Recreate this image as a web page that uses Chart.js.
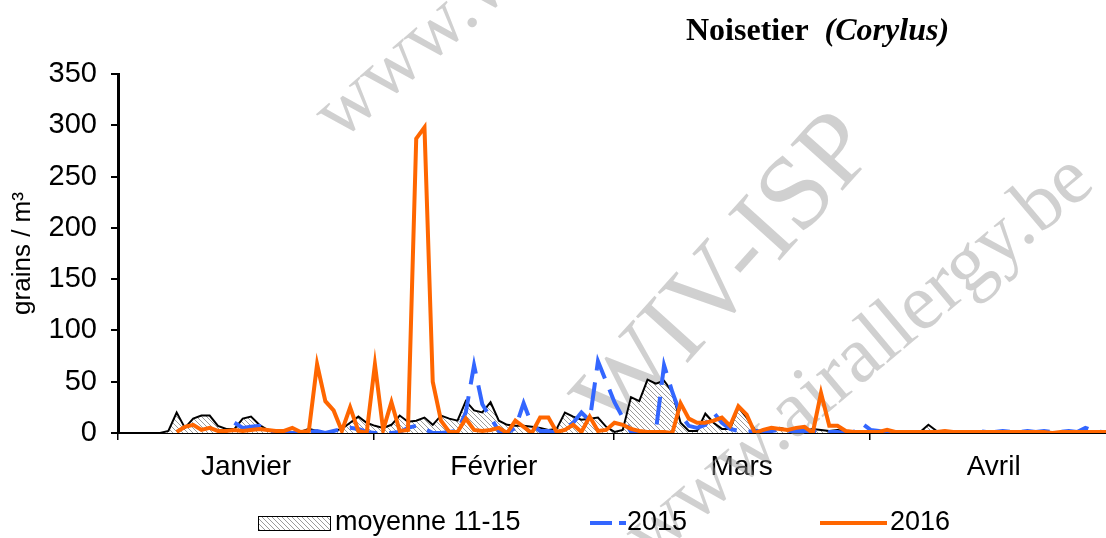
<!DOCTYPE html>
<html>
<head>
<meta charset="utf-8">
<script src="https://cdn.jsdelivr.net/npm/chart.js@4.4.1/dist/chart.umd.min.js"></script>
<style>
  html, body { margin: 0; padding: 0; background: #fff; }
</style>
</head>
<body>
<canvas id="chart" width="1106" height="538"></canvas>
<script>
// months and days per month (2016, leap year)
const months = ['Janvier', 'Février', 'Mars', 'Avril'];
const monthDays = [31, 29, 31, 30];
const yTicks = [0, 50, 100, 150, 200, 250, 300, 350];

// daily values, 1 Jan -> 30 Apr
const moyenne = [
  0, 0, 0, 0, 0, 0, 2, 20, 5, 14, 17, 17, 7, 4, 4, 14, 16, 8, 3, 2,
  2, 1, 1, 4, 2, 0, 2, 4, 10, 16, 10, 7, 5, 8, 17, 11, 12, 15, 8, 17,
  14, 12, 31, 22, 20, 30, 12, 8, 7, 7, 6, 5, 3, 4, 20, 16, 13, 14, 15, 6,
  1, 3, 35, 31, 52, 48, 51, 40, 10, 2, 2, 19, 10, 4, 4, 25, 15, 3, 1, 2,
  5, 3, 3, 2, 4, 3, 2, 3, 2, 1, 1, 2, 1, 2, 1, 1, 1, 1, 8, 2,
  2, 1, 0, 1, 1, 0, 1, 1, 0, 1, 1, 0, 1, 1, 1, 0, 1, 1, 1, 0, 1
];
const y2015 = [
  null, null, null, null, null, null, null, null, null, null, null, null, null, null, 10, 5, 6, 7, 1, 0,
  0, 0, 0, 1, 2, 0, 2, 4, 5, 4, 1, 0, 0, 0, 1, 5, 7, 4, 0, 0,
  1, 2, 20, 66, 28, 15, 2, 0, 5, 29, 8, 2, 2, 0, 4, 10, 20, 12, 70, 50,
  30, 15, 1, 0, 0, 1, 66, 40, 18, 7, 5, 8, 20, 10, 4, 2, 1, 2, 1, 2,
  3, 2, 2, 2, 2, 1, 1, 1, 0, 1, 9, 3, 2, 0, 1, 1, 1, 1, 1, 2,
  1, 1, 1, 1, 2, 1, 1, 2, 1, 1, 2, 1, 2, 1, 1, 2, 1, 5, 2, 1, 1
];
const y2016 = [
  null, null, null, null, null, null, null, 1, 6, 8, 3, 5, 2, 2, 3, 2, 3, 4, 3, 2,
  2, 5, 1, 2, 67, 31, 22, 2, 25, 2, 0, 67, 3, 30, 2, 3, 287, 298, 50, 12,
  1, 1, 14, 3, 2, 3, 5, 0, 12, 6, 0, 15, 15, 1, 3, 8, 1, 16, 2, 3,
  10, 8, 4, 2, 1, 1, 1, 0, 29, 14, 10, 10, 12, 15, 7, 26, 18, 0, 3, 5,
  4, 3, 5, 6, 0, 39, 7, 7, 2, 1, 1, 1, 1, 3, 1, 1, 1, 1, 1, 1,
  2, 1, 1, 1, 1, 1, 1, 1, 1, 1, 1, 1, 1, 0, 1, 1, 1, 1, 1, 1, 1
];

// visible part of the day axis (the chart is cut a bit before 30 April)
const xMax = 119.6;

const bounds = [0];
monthDays.forEach(d => bounds.push(bounds[bounds.length - 1] + d));
const centers = monthDays.map((d, i) => bounds[i] + d / 2);
const xTicks = bounds.concat(centers).filter(v => v <= xMax).sort((a, b) => a - b);

const toPoints = arr => arr.map((v, i) => ({ x: i + 0.1, y: v }));

const ctx = document.getElementById('chart').getContext('2d');

function makeHatch() {
  const s = 5;
  const c = document.createElement('canvas');
  c.width = s; c.height = s;
  const g = c.getContext('2d');
  g.fillStyle = '#fff';
  g.fillRect(0, 0, s, s);
  g.strokeStyle = '#9a9a9a';
  g.lineWidth = 1;
  g.beginPath();
  g.moveTo(-1, -1); g.lineTo(s + 1, s + 1);
  g.moveTo(-1, s - 1); g.lineTo(1, s + 1);
  g.moveTo(s - 1, -1); g.lineTo(s + 1, 1);
  g.stroke();
  return ctx.createPattern(c, 'repeat');
}
const hatch = makeHatch();

const sans = '"Liberation Sans", Arial, sans-serif';
const serif = '"Liberation Serif", "Times New Roman", serif';

// watermark, title and legend drawn on the canvas
const decor = {
  id: 'decor',
  beforeDatasetsDraw(chart) {
    const c = chart.ctx;
    c.save();
    c.fillStyle = 'rgba(150,150,150,0.45)';
    c.textBaseline = 'alphabetic';
    const marks = [
      { t: 'www.wiv-isp.be', x: 340, y: 142, a: -41, f: 80 },
      { t: 'WIV-ISP', x: 618, y: 440, a: -48, f: 106 },
      { t: 'www.airallergy.be', x: 650, y: 562, a: -40, f: 80 }
    ];
    marks.forEach(m => {
      c.save();
      c.translate(m.x, m.y);
      c.rotate(m.a * Math.PI / 180);
      c.font = m.f + 'px ' + serif;
      c.fillText(m.t, 0, 0);
      c.restore();
    });
    c.restore();
  },
  afterDraw(chart) {
    const c = chart.ctx;
    c.save();
    // title
    c.fillStyle = '#000';
    c.textBaseline = 'alphabetic';
    c.font = 'bold 32px ' + serif;
    c.fillText('Noisetier', 686, 40);
    const w = c.measureText('Noisetier  ').width;
    c.font = 'italic bold 32px ' + serif;
    c.fillText('(Corylus)', 686 + w, 40);

    // legend
    const ly = 523;
    c.font = '27px ' + sans;
    c.textBaseline = 'middle';
    c.fillStyle = hatch;
    c.fillRect(258, 516, 72, 14);
    c.strokeStyle = '#000';
    c.lineWidth = 1;
    c.strokeRect(258.5, 516.5, 72, 14);
    c.fillStyle = '#000';
    c.fillText('moyenne 11-15', 335, ly);

    c.lineWidth = 4;
    c.strokeStyle = '#3366ff';
    c.beginPath();
    c.moveTo(590, ly); c.lineTo(612, ly);
    c.moveTo(619, ly); c.lineTo(626, ly);
    c.stroke();
    c.fillText('2015', 627, ly);

    c.strokeStyle = '#ff6600';
    c.beginPath();
    c.moveTo(820, ly); c.lineTo(887, ly);
    c.stroke();
    c.fillText('2016', 890, ly);
    c.restore();
  }
};

new Chart(ctx, {
  type: 'line',
  data: {
    datasets: [
      {
        label: '2016',
        data: toPoints(y2016),
        borderColor: '#ff6600',
        borderWidth: 4,
        pointRadius: 0,
        fill: false,
        order: 0
      },
      {
        label: '2015',
        data: toPoints(y2015),
        borderColor: '#3366ff',
        borderWidth: 4,
        borderDash: [28, 12],
        pointRadius: 0,
        fill: false,
        order: 1
      },
      {
        label: 'moyenne 11-15',
        data: toPoints(moyenne),
        borderColor: '#000',
        borderWidth: 2,
        backgroundColor: hatch,
        fill: 'origin',
        pointRadius: 0,
        order: 2
      }
    ]
  },
  options: {
    responsive: false,
    animation: false,
    spanGaps: false,
    layout: { padding: { top: 74, right: 0, bottom: 60, left: 0 } },
    plugins: {
      legend: { display: false },
      tooltip: { enabled: false }
    },
    scales: {
      x: {
        type: 'linear',
        min: 0,
        max: xMax,
        afterBuildTicks: s => { s.ticks = xTicks.map(v => ({ value: v })); },
        afterFit: s => { s.height = 45; s.paddingLeft = 0; s.paddingRight = 0; },
        ticks: {
          autoSkip: false,
          maxRotation: 0,
          padding: 10,
          color: '#000',
          font: { family: sans, size: 28 },
          callback: v => {
            const i = centers.indexOf(v);
            return i >= 0 ? months[i] : '';
          }
        },
        grid: {
          drawOnChartArea: false,
          tickLength: 7,
          lineWidth: 1.5,
          color: c => bounds.includes(c.tick.value) ? '#000' : 'rgba(0,0,0,0)'
        },
        border: { color: '#000', width: 2 }
      },
      y: {
        min: 0,
        max: 350,
        afterBuildTicks: s => { s.ticks = yTicks.map(v => ({ value: v })); },
        afterFit: s => { s.width = 118; },
        ticks: {
          padding: 14,
          color: '#000',
          font: { family: sans, size: 29 }
        },
        grid: {
          drawOnChartArea: false,
          tickLength: 7,
          lineWidth: 2,
          color: '#000'
        },
        border: { color: '#000', width: 3 },
        title: {
          display: true,
          text: 'grains / m³',
          color: '#000',
          font: { family: sans, size: 26 },
          padding: { top: 7, bottom: 0 }
        }
      }
    }
  },
  plugins: [decor]
});
</script>
</body>
</html>
